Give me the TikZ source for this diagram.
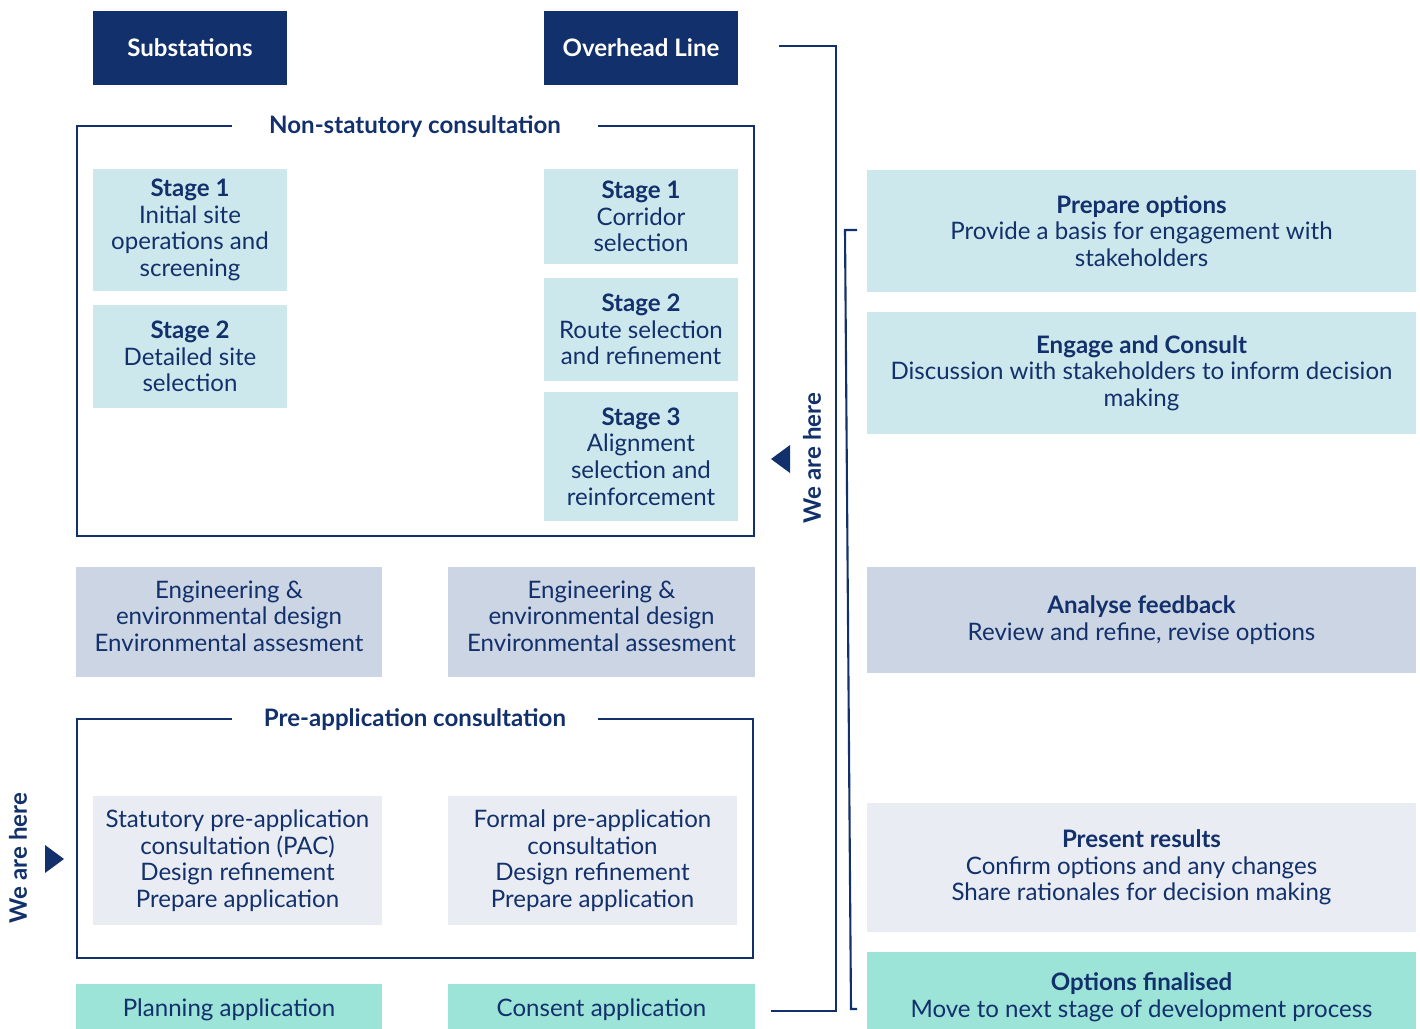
\documentclass[tikz,border=0pt]{standalone}
\usepackage{fontspec}
\setmainfont{Lato}
\usepackage{tikz}
\usetikzlibrary{calc}

\definecolor{navy}{HTML}{12306B}
\definecolor{palecyan}{HTML}{CDE8EC}
\definecolor{greyblue}{HTML}{CCD5E3}
\definecolor{palegrey}{HTML}{E9EDF3}
\definecolor{mint}{HTML}{9CE3D8}

\newcommand{\txt}{\fontsize{13.7}{15.1}\selectfont}

\tikzset{
  hdr/.style={fill=navy,text=white,font=\txt\bfseries,inner sep=0pt,
    minimum width=3.88cm,minimum height=1.48cm},
  stagebox/.style={fill=palecyan,text=navy,font=\txt,align=center,inner sep=0pt,
    minimum width=3.88cm},
  sidebox/.style={text=navy,font=\txt,align=center,inner sep=0pt,
    minimum width=10.98cm},
  frameline/.style={navy,line width=1.2pt},
  frametitle/.style={text=navy,font=\txt\bfseries},
  herelabel/.style={text=navy,font=\txt\bfseries,rotate=90}
}

\begin{document}
\begin{tikzpicture}[x=0.02cm,y=-0.02cm]
\useasboundingbox (0,0) rectangle (1420,1028);

%headers
\node[hdr] (sub) at (190,48) {Substations};
\node[hdr] (ohl) at (641,48) {Overhead Line};

%non-statutory frame
\node[frametitle] (nsc) at (415,127) {Non-statutory consultation};
\draw[frameline] (232,126) -| (77,536) -| (754,126) -- (598,126);

\node[stagebox,minimum height=2.44cm] (sone) at (190,230)
  {\textbf{Stage 1}\\Initial site\\operations and\\screening};
\node[stagebox,minimum height=2.06cm] (stwo) at (190,356.5)
  {\textbf{Stage 2}\\Detailed site\\selection};
\node[stagebox,minimum height=1.90cm] (lone) at (641,216.5)
  {\textbf{Stage 1}\\Corridor\\selection};
\node[stagebox,minimum height=2.06cm] (ltwo) at (641,329.5)
  {\textbf{Stage 2}\\Route selection\\and refinement};
\node[stagebox,minimum height=2.58cm] (lthree) at (641,456.5)
  {\textbf{Stage 3}\\Alignment\\selection and\\reinforcement};

%engineering boxes
\node[stagebox,fill=greyblue,minimum width=6.12cm,minimum height=2.20cm] (engs) at (229,622)
  {Engineering \&\\environmental design\\Environmental assesment\\[-8.5pt]};
\node[stagebox,fill=greyblue,minimum width=6.14cm,minimum height=2.20cm] (engl) at (601.5,622)
  {Engineering \&\\environmental design\\Environmental assesment\\[-8.5pt]};

%pre-application frame
\node[frametitle] (pre) at (415,720) {Pre-application consultation};
\draw[frameline] (232,719) -| (77,958) -| (753,719) -- (598,719);

\node[stagebox,fill=palegrey,minimum width=5.78cm,minimum height=2.58cm] (pac) at (237.5,860.5)
  {Statutory pre-application\\consultation (PAC)\\Design refinement\\Prepare application};
\node[stagebox,fill=palegrey,minimum width=5.78cm,minimum height=2.58cm] (fpac) at (592.5,860.5)
  {Formal pre-application\\consultation\\Design refinement\\Prepare application};

%applications
\node[stagebox,fill=mint,minimum width=6.12cm,minimum height=1.04cm] (plan) at (229,1010)
  {Planning application};
\node[stagebox,fill=mint,minimum width=6.14cm,minimum height=1.04cm] (cons) at (601.5,1010)
  {Consent application};

%process steps
\node[sidebox,fill=palecyan,minimum height=2.44cm] (prep) at (1141.5,231)
  {\textbf{Prepare options}\\Provide a basis for engagement with\\stakeholders};
\node[sidebox,fill=palecyan,minimum height=2.44cm] (engage) at (1141.5,373)
  {\textbf{Engage and Consult}\\Discussion with stakeholders to inform decision\\making};
\node[sidebox,fill=greyblue,minimum height=2.12cm] (analyse) at (1141.5,620)
  {\textbf{Analyse feedback}\\Review and refine, revise options};
\node[sidebox,fill=palegrey,minimum height=2.58cm] (present) at (1141.5,867.5)
  {\textbf{Present results}\\Confirm options and any changes\\Share rationales for decision making};
\node[sidebox,fill=mint,minimum height=1.80cm] (final) at (1141.5,997)
  {\textbf{Options finalised}\\Move to next stage of development process};

%brackets
\coordinate (bigtop) at (779,46);
\coordinate (bigbot) at (771,1011);
\coordinate (smalltop) at (857,230);
\coordinate (smallbot) at (857,1009);
\draw[frameline] (bigtop) -- (836,46) -- (836,1011) -- (bigbot);
\draw[frameline] (smalltop) -- (845,230) -- (851,1009) -- (smallbot);

%we are here
\node[herelabel] (hereol) at (812,458) {We are here};
\fill[navy] (771,459) -- (790,445) -- (790,473) -- cycle;
\node[herelabel] (heresub) at (18,858) {We are here};
\fill[navy] (64,859) -- (45,845) -- (45,873) -- cycle;

\end{tikzpicture}
\end{document}
